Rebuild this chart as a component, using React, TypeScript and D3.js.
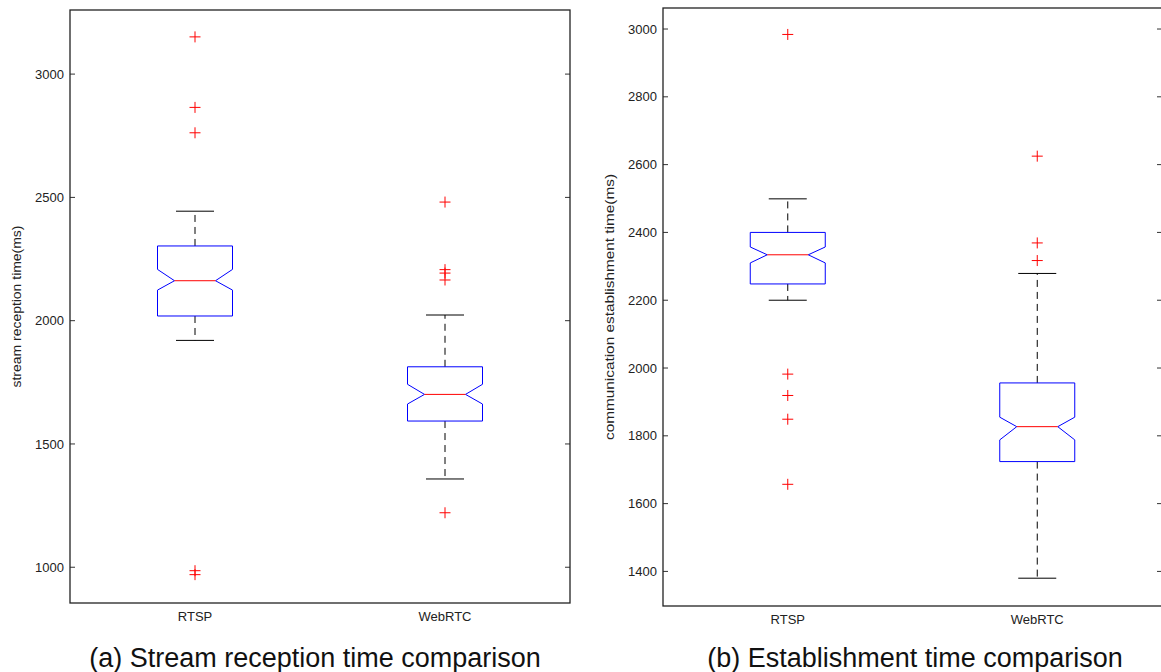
import React from 'react'
import * as d3 from 'd3'

// groups on the x axis
const categories = ['RTSP', 'WebRTC']

// (a) stream reception time, ms
const receptionLowerWhisker = [1920, 1358]
const receptionQ1 = [2019, 1593]
const receptionMedian = [2162, 1701]
const receptionQ3 = [2303, 1813]
const receptionUpperWhisker = [2444, 2023]
const receptionNotchLow = [2124, 1662]
const receptionNotchHigh = [2208, 1742]
const receptionOutliers = [
  [3151, 2865, 2762, 986, 970],
  [2481, 2207, 2193, 2165, 1221]
]
const receptionTicks = [1000, 1500, 2000, 2500, 3000]

// (b) communication establishment time, ms
const establishLowerWhisker = [2200, 1380]
const establishQ1 = [2248, 1724]
const establishMedian = [2334, 1827]
const establishQ3 = [2400, 1956]
const establishUpperWhisker = [2499, 2279]
const establishNotchLow = [2310, 1788]
const establishNotchHigh = [2357, 1855]
const establishOutliers = [
  [2984, 1982, 1919, 1849, 1657],
  [2625, 2369, 2317]
]
const establishTicks = [1400, 1600, 1800, 2000, 2200, 2400, 2600, 2800, 3000]

const FONT = '"Liberation Sans", Arial, sans-serif'

const buildBoxes = (lo, q1, med, q3, hi, nLo, nHi, out) =>
  categories.map((name, i) => ({
    name,
    pos: i + 1,
    lo: lo[i],
    q1: q1[i],
    med: med[i],
    q3: q3[i],
    hi: hi[i],
    nLo: nLo[i],
    nHi: nHi[i],
    out: out[i]
  }))

const panels = [
  {
    key: 'a',
    left: 70,
    right: 570,
    top: 10,
    bottom: 603,
    domain: [855, 3260],
    ticks: receptionTicks,
    ylabel: 'stream reception time(ms)',
    ylabelX: 17,
    ylabelLen: 162,
    caption: '(a) Stream reception time comparison',
    captionX: 315,
    boxes: buildBoxes(
      receptionLowerWhisker,
      receptionQ1,
      receptionMedian,
      receptionQ3,
      receptionUpperWhisker,
      receptionNotchLow,
      receptionNotchHigh,
      receptionOutliers
    )
  },
  {
    key: 'b',
    left: 663,
    right: 1162,
    top: 8,
    bottom: 606,
    domain: [1298, 3062],
    ticks: establishTicks,
    ylabel: 'communication establishment time(ms)',
    ylabelX: 610,
    ylabelLen: 266,
    caption: '(b) Establishment time comparison',
    captionX: 915,
    boxes: buildBoxes(
      establishLowerWhisker,
      establishQ1,
      establishMedian,
      establishQ3,
      establishUpperWhisker,
      establishNotchLow,
      establishNotchHigh,
      establishOutliers
    )
  }
]

const BOX_HALF = 37.5
const NOTCH_IN = 17
const CAP_HALF = 19
const CROSS = 5.5

function Panel({ p }) {
  const x = d3.scaleLinear().domain([0.5, 2.5]).range([p.left, p.right])
  const y = d3.scaleLinear().domain(p.domain).range([p.bottom, p.top])
  const midY = (p.top + p.bottom) / 2

  return (
    <g>
      {/* tick marks, inward on both sides */}
      {p.ticks.map(t => (
        <g key={t}>
          <line x1={p.left} x2={p.left + 5} y1={y(t)} y2={y(t)} stroke="#333" />
          <line x1={p.right} x2={p.right - 5} y1={y(t)} y2={y(t)} stroke="#333" />
          <text
            x={p.left - 6}
            y={y(t)}
            dy="0.35em"
            textAnchor="end"
            fontSize={13}
            fontFamily={FONT}
            fill="#222"
          >
            {t}
          </text>
        </g>
      ))}

      {p.boxes.map(b => {
        const cx = x(b.pos)
        const notchPath = d3.path()
        notchPath.moveTo(cx - BOX_HALF, y(b.q3))
        notchPath.lineTo(cx + BOX_HALF, y(b.q3))
        notchPath.lineTo(cx + BOX_HALF, y(b.nHi))
        notchPath.lineTo(cx + BOX_HALF - NOTCH_IN, y(b.med))
        notchPath.lineTo(cx + BOX_HALF, y(b.nLo))
        notchPath.lineTo(cx + BOX_HALF, y(b.q1))
        notchPath.lineTo(cx - BOX_HALF, y(b.q1))
        notchPath.lineTo(cx - BOX_HALF, y(b.nLo))
        notchPath.lineTo(cx - BOX_HALF + NOTCH_IN, y(b.med))
        notchPath.lineTo(cx - BOX_HALF, y(b.nHi))
        notchPath.closePath()
        return (
          <g key={b.name}>
            {/* whiskers */}
            <line x1={cx} x2={cx} y1={y(b.q3)} y2={y(b.hi)} stroke="#000" strokeDasharray="7,5" />
            <line x1={cx} x2={cx} y1={y(b.q1)} y2={y(b.lo)} stroke="#000" strokeDasharray="7,5" />
            <line x1={cx - CAP_HALF} x2={cx + CAP_HALF} y1={y(b.hi)} y2={y(b.hi)} stroke="#000" />
            <line x1={cx - CAP_HALF} x2={cx + CAP_HALF} y1={y(b.lo)} y2={y(b.lo)} stroke="#000" />
            <path d={notchPath.toString()} fill="none" stroke="#0000ff" />
            <line
              x1={cx - BOX_HALF + NOTCH_IN}
              x2={cx + BOX_HALF - NOTCH_IN}
              y1={y(b.med)}
              y2={y(b.med)}
              stroke="#ff0000"
            />
            {b.out.map((v, k) => (
              <g key={k} stroke="#ff0000">
                <line x1={cx - CROSS} x2={cx + CROSS} y1={y(v)} y2={y(v)} />
                <line x1={cx} x2={cx} y1={y(v) - CROSS} y2={y(v) + CROSS} />
              </g>
            ))}
            <text
              x={cx}
              y={p.bottom + 18}
              textAnchor="middle"
              fontSize={13}
              fontFamily={FONT}
              fill="#222"
            >
              {b.name}
            </text>
          </g>
        )
      })}

      {/* frame */}
      <rect
        x={p.left}
        y={p.top}
        width={p.right - p.left}
        height={p.bottom - p.top}
        fill="none"
        stroke="#222"
        strokeWidth={1.3}
      />

      <text
        transform={`translate(${p.ylabelX},${midY}) rotate(-90)`}
        textAnchor="middle"
        dy="0.35em"
        fontSize={12}
        fontFamily={FONT}
        fill="#222"
        textLength={p.ylabelLen}
        lengthAdjust="spacingAndGlyphs"
      >
        {p.ylabel}
      </text>

      <text
        x={p.captionX}
        y={667}
        textAnchor="middle"
        fontSize={27}
        fontFamily={FONT}
        fill="#111"
      >
        {p.caption}
      </text>
    </g>
  )
}

export default function App() {
  return (
    <svg
      width={1161}
      height={672}
      style={{ position: 'absolute', left: 0, top: 0, background: '#fff' }}
    >
      <rect width={1161} height={672} fill="#fff" />
      {panels.map(p => (
        <Panel key={p.key} p={p} />
      ))}
    </svg>
  )
}
